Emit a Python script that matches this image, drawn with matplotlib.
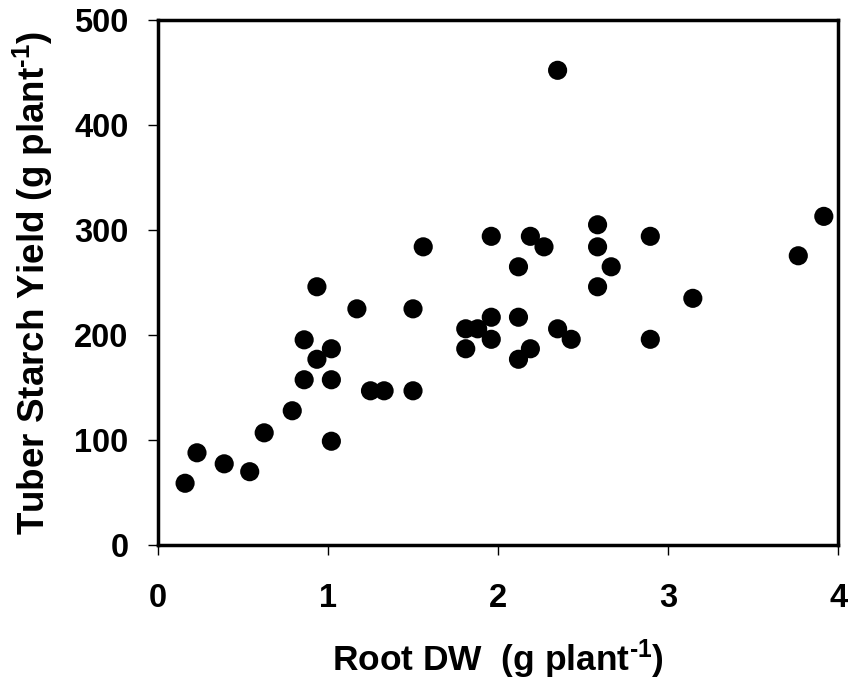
import matplotlib
matplotlib.use("Agg")
import matplotlib.pyplot as plt

root_dw = [0.16, 0.23, 0.39, 0.54, 0.625, 0.79, 0.86, 0.86, 0.935, 0.935,
           1.02, 1.02, 1.02, 1.17, 1.25, 1.33, 1.50, 1.50, 1.56, 1.81,
           1.81, 1.88, 1.96, 1.96, 1.96, 2.12, 2.12, 2.12, 2.19, 2.19,
           2.27, 2.35, 2.35, 2.43, 2.585, 2.585, 2.585, 2.665, 2.895, 2.895,
           3.145, 3.765, 3.915]
starch = [59, 88, 77.5, 70, 107, 128, 157.5, 195.5, 177, 246,
          187, 157.5, 99, 225, 147, 147, 147, 225, 284, 187,
          206, 206, 217, 196, 294, 217, 265, 177, 187, 294,
          284, 452, 206, 196, 305, 284, 246, 265, 294, 196,
          235, 275.5, 313]

xticks = [0, 1, 2, 3, 4]
yticks = [0, 100, 200, 300, 400, 500]

plt.rcParams['font.family'] = ['Liberation Sans', 'DejaVu Sans']
plt.rcParams['font.weight'] = 'bold'
plt.rcParams['mathtext.fontset'] = 'custom'
plt.rcParams['mathtext.rm'] = 'Liberation Sans:bold'
plt.rcParams['mathtext.it'] = 'Liberation Sans:bold'
plt.rcParams['mathtext.bf'] = 'Liberation Sans:bold'

fig = plt.figure(figsize=(8.58, 6.85), dpi=100)
ax = fig.add_axes([0.184, 0.204, 0.793, 0.767])
ax.scatter(root_dw, starch, s=190, color='black', edgecolors='none', zorder=3, clip_on=False)
ax.set_xlim(0, 4)
ax.set_ylim(0, 500)
ax.set_xticks(xticks)
ax.set_yticks(yticks)
ax.tick_params(axis='both', direction='out', length=7, width=1, labelsize=23.5)
ax.tick_params(axis='x', pad=20)
ax.tick_params(axis='y', pad=14)
for lab in ax.get_xticklabels() + ax.get_yticklabels():
    lab.set_fontweight('bold')
for sp in ax.spines.values():
    sp.set_linewidth(2.5)
ax.set_xlabel(r'Root DW  (g plant$^{\text{-1}}$)', fontsize=25.5, fontweight='bold', labelpad=17)
ax.set_ylabel(r'Tuber Starch Yield (g plant$^{\text{-1}}$)', fontsize=26.5, fontweight='bold', labelpad=14)
fig.savefig('out.png', dpi=100)
